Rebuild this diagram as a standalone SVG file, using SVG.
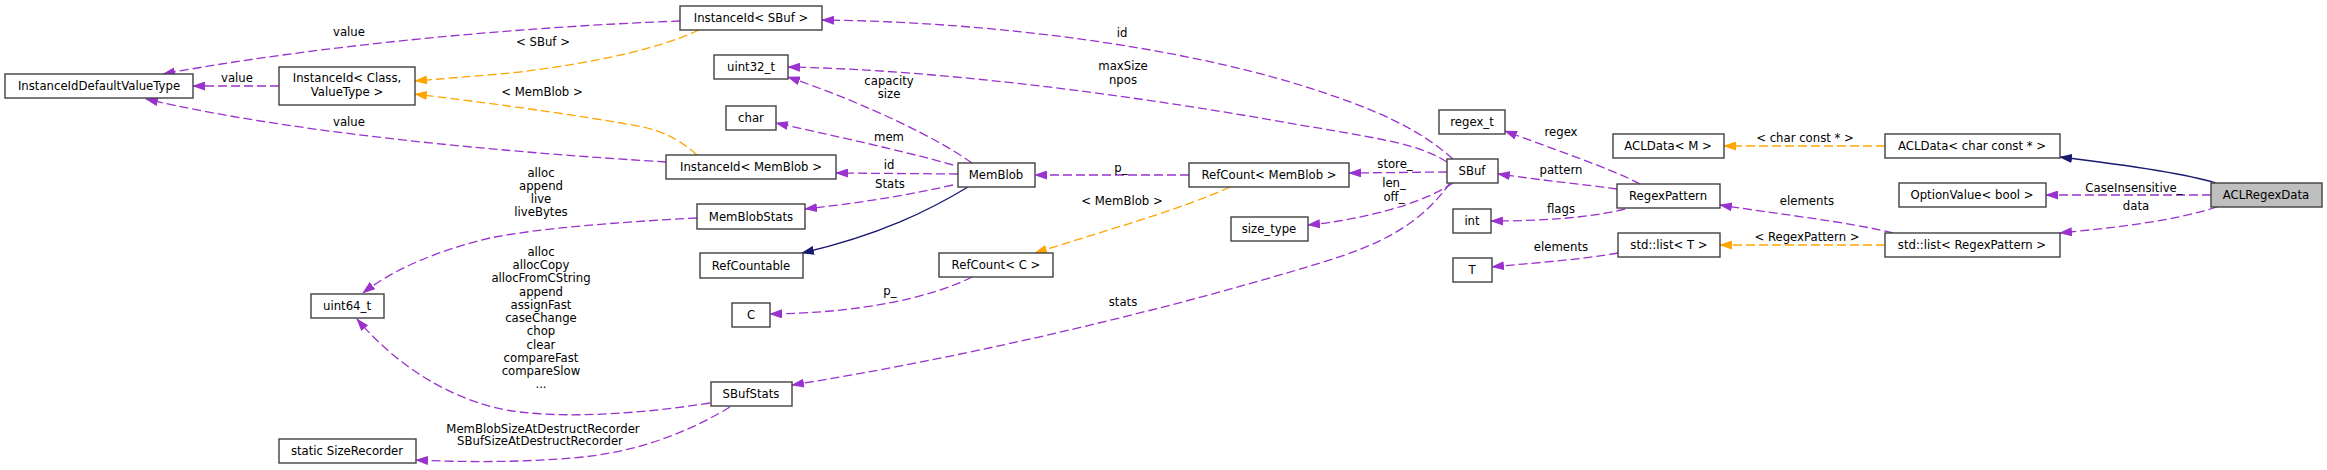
<svg xmlns="http://www.w3.org/2000/svg" width="2327" height="470" viewBox="0 0 2327 470">
<style>
.node rect{fill:#fff;stroke:#404040;stroke-width:1.4}
.node rect.main{fill:#bfbfbf}
text{font-family:"DejaVu Sans",sans-serif;font-size:11.7px;text-anchor:middle;fill:#000}
.e path{fill:none;stroke-width:1.3}
.e path.p{stroke:#9a32cd;stroke-dasharray:9 4;marker-end:url(#ap)}
.e path.o{stroke:#ffa500;stroke-dasharray:9 4;marker-end:url(#ao)}
.e path.b{stroke:#191970;marker-end:url(#ab)}
</style>
<defs>
<marker id="ap" viewBox="0 0 13 9" refX="12" refY="4.5" markerWidth="13" markerHeight="9" markerUnits="userSpaceOnUse" orient="auto"><path d="M0,0 L13,4.5 L0,9 z" fill="#9a32cd"/></marker>
<marker id="ao" viewBox="0 0 13 9" refX="12" refY="4.5" markerWidth="13" markerHeight="9" markerUnits="userSpaceOnUse" orient="auto"><path d="M0,0 L13,4.5 L0,9 z" fill="#ffa500"/></marker>
<marker id="ab" viewBox="0 0 13 9" refX="12" refY="4.5" markerWidth="13" markerHeight="9" markerUnits="userSpaceOnUse" orient="auto"><path d="M0,0 L13,4.5 L0,9 z" fill="#191970"/></marker>
</defs>
<rect width="2327" height="470" fill="#fff"/>
<g id="edges" class="e">
<path class="b" d="M2216,183 C2180,172 2110,163 2060,157"/>
<path class="o" d="M1885,146 L1724,146"/>
<text x="1805" y="142">&lt; char const * &gt;</text>
<path class="p" d="M2211,195 L2046,195"/>
<text x="2134" y="192">CaseInsensitive_</text>
<path class="p" d="M2217,207 C2170,222 2110,228 2060,233"/>
<text x="2136" y="210">data</text>
<path class="p" d="M1893,233 C1850,222 1770,213 1720,205"/>
<text x="1807" y="205">elements</text>
<path class="o" d="M1885,245 L1720,245"/>
<text x="1807" y="241">&lt; RegexPattern &gt;</text>
<path class="p" d="M1618,253 C1580,260 1530,263 1492,267"/>
<text x="1561" y="251">elements</text>
<path class="p" d="M1640,184 C1610,168 1550,148 1505,131"/>
<text x="1561" y="136">regex</text>
<path class="p" d="M1617,189 C1580,184 1540,180 1498,174"/>
<text x="1561" y="174">pattern</text>
<path class="p" d="M1625,209 C1590,218 1540,221 1491,221"/>
<text x="1561" y="213">flags</text>
<path class="p" d="M1447,172 L1349,173"/>
<text x="1395" y="168">store_</text>
<path class="p" d="M1453,159 C1420,130 1380,110 1300,85 C1180,48 1000,22 822,20"/>
<text x="1122" y="37">id</text>
<path class="p" d="M1447,162 C1420,145 1390,140 1300,125 C1150,98 950,70 788,67"/>
<text x="1123" y="70">maxSize</text>
<text x="1123" y="84">npos</text>
<path class="p" d="M1453,183 C1420,205 1360,220 1308,225"/>
<text x="1394" y="187">len_</text>
<text x="1394" y="201">off_</text>
<path class="p" d="M1450,183 C1420,225 1380,245 1320,263 C1150,315 950,360 792,385"/>
<text x="1123" y="306">stats</text>
<path class="p" d="M1189,175 L1035,175"/>
<text x="1121" y="172">p_</text>
<path class="o" d="M1230,187 C1180,210 1100,232 1035,253"/>
<text x="1122" y="205">&lt; MemBlob &gt;</text>
<path class="p" d="M972,277 C930,298 860,313 770,314"/>
<text x="890" y="295">p_</text>
<path class="b" d="M968,187 C930,210 880,235 802,253"/>
<path class="p" d="M972,163 C940,140 870,105 788,77"/>
<text x="889" y="85">capacity</text>
<text x="889" y="98">size</text>
<path class="p" d="M953,165 C900,150 830,135 776,123"/>
<text x="889" y="141">mem</text>
<path class="p" d="M958,174 L836,173"/>
<text x="889" y="169">id</text>
<path class="p" d="M953,185 C900,197 850,204 805,209"/>
<text x="890" y="188">Stats</text>
<path class="p" d="M697,218 C620,222 540,228 490,238 C440,250 395,268 363,293"/>
<text x="541" y="177">alloc</text>
<text x="541" y="190">append</text>
<text x="541" y="203">live</text>
<text x="541" y="216">liveBytes</text>
<path class="p" d="M710,403 C640,414 570,418 520,412 C460,405 400,370 357,319"/>
<text x="541" y="256">alloc</text>
<text x="541" y="269">allocCopy</text>
<text x="541" y="282">allocFromCString</text>
<text x="541" y="296">append</text>
<text x="541" y="309">assignFast</text>
<text x="541" y="322">caseChange</text>
<text x="541" y="335">chop</text>
<text x="541" y="349">clear</text>
<text x="541" y="362">compareFast</text>
<text x="541" y="375">compareSlow</text>
<text x="541" y="388">...</text>
<path class="p" d="M730,407 C700,425 650,450 583,457 C520,463 460,462 416,460"/>
<text x="543" y="433">MemBlobSizeAtDestructRecorder</text>
<text x="540" y="445">SBufSizeAtDestructRecorder</text>
<path class="p" d="M680,21 C520,27 320,45 163,74"/>
<text x="349" y="36">value</text>
<path class="o" d="M699,30 C660,48 600,62 520,72 C480,76 450,78 415,81"/>
<text x="543" y="46">&lt; SBuf &gt;</text>
<path class="p" d="M279,86 L193,86"/>
<text x="237" y="82">value</text>
<path class="o" d="M697,155 C680,140 665,132 643,127 C580,115 480,102 415,94"/>
<text x="542" y="96">&lt; MemBlob &gt;</text>
<path class="p" d="M666,162 C520,153 300,135 146,99"/>
<text x="349" y="126">value</text>
</g>
<g id="ACLRegexData" class="node"><rect class="main" x="2211" y="183" width="111" height="24"/><text x="2266" y="199">ACLRegexData</text></g>
<g id="ACLData_cc" class="node"><rect x="1885" y="134" width="175" height="24"/><text x="1972" y="150">ACLData&lt; char const * &gt;</text></g>
<g id="ACLData_M" class="node"><rect x="1613" y="134" width="111" height="24"/><text x="1668" y="150">ACLData&lt; M &gt;</text></g>
<g id="OptionValue_bool" class="node"><rect x="1899" y="183" width="147" height="24"/><text x="1972" y="199">OptionValue&lt; bool &gt;</text></g>
<g id="list_RegexPattern" class="node"><rect x="1885" y="233" width="175" height="24"/><text x="1972" y="249">std::list&lt; RegexPattern &gt;</text></g>
<g id="list_T" class="node"><rect x="1618" y="233" width="102" height="24"/><text x="1669" y="249">std::list&lt; T &gt;</text></g>
<g id="RegexPattern" class="node"><rect x="1617" y="184" width="103" height="24"/><text x="1668" y="200">RegexPattern</text></g>
<g id="regex_t" class="node"><rect x="1439" y="110" width="66" height="24"/><text x="1472" y="126">regex_t</text></g>
<g id="SBuf" class="node"><rect x="1447" y="159" width="51" height="24"/><text x="1472" y="175">SBuf</text></g>
<g id="int" class="node"><rect x="1453" y="209" width="38" height="24"/><text x="1472" y="225">int</text></g>
<g id="T" class="node"><rect x="1453" y="258" width="39" height="24"/><text x="1472" y="274">T</text></g>
<g id="RefCount_MemBlob" class="node"><rect x="1189" y="163" width="160" height="24"/><text x="1269" y="179">RefCount&lt; MemBlob &gt;</text></g>
<g id="size_type" class="node"><rect x="1231" y="217" width="77" height="24"/><text x="1269" y="233">size_type</text></g>
<g id="MemBlob" class="node"><rect x="958" y="163" width="77" height="24"/><text x="996" y="179">MemBlob</text></g>
<g id="RefCount_C" class="node"><rect x="939" y="253" width="114" height="24"/><text x="996" y="269">RefCount&lt; C &gt;</text></g>
<g id="InstanceId_SBuf" class="node"><rect x="680" y="6" width="142" height="24"/><text x="751" y="22">InstanceId&lt; SBuf &gt;</text></g>
<g id="uint32_t" class="node"><rect x="714" y="55" width="74" height="24"/><text x="751" y="71">uint32_t</text></g>
<g id="char" class="node"><rect x="726" y="106" width="50" height="24"/><text x="751" y="122">char</text></g>
<g id="InstanceId_MemBlob" class="node"><rect x="666" y="155" width="170" height="24"/><text x="751" y="171">InstanceId&lt; MemBlob &gt;</text></g>
<g id="MemBlobStats" class="node"><rect x="697" y="204" width="108" height="25"/><text x="751" y="221">MemBlobStats</text></g>
<g id="RefCountable" class="node"><rect x="700" y="253" width="103" height="25"/><text x="751" y="270">RefCountable</text></g>
<g id="C" class="node"><rect x="732" y="303" width="38" height="24"/><text x="751" y="319">C</text></g>
<g id="SBufStats" class="node"><rect x="711" y="382" width="81" height="24"/><text x="751" y="398">SBufStats</text></g>
<g id="InstanceIdDefaultValueType" class="node"><rect x="5" y="74" width="188" height="24"/><text x="99" y="90">InstanceIdDefaultValueType</text></g>
<g id="InstanceId_Class" class="node"><rect x="279" y="67" width="136" height="38"/><text x="347" y="82">InstanceId&lt; Class,</text><text x="347" y="96">ValueType &gt;</text></g>
<g id="uint64_t" class="node"><rect x="311" y="294" width="73" height="24"/><text x="347" y="310">uint64_t</text></g>
<g id="SizeRecorder" class="node"><rect x="279" y="439" width="137" height="24"/><text x="347" y="455">static SizeRecorder</text></g>
</svg>
